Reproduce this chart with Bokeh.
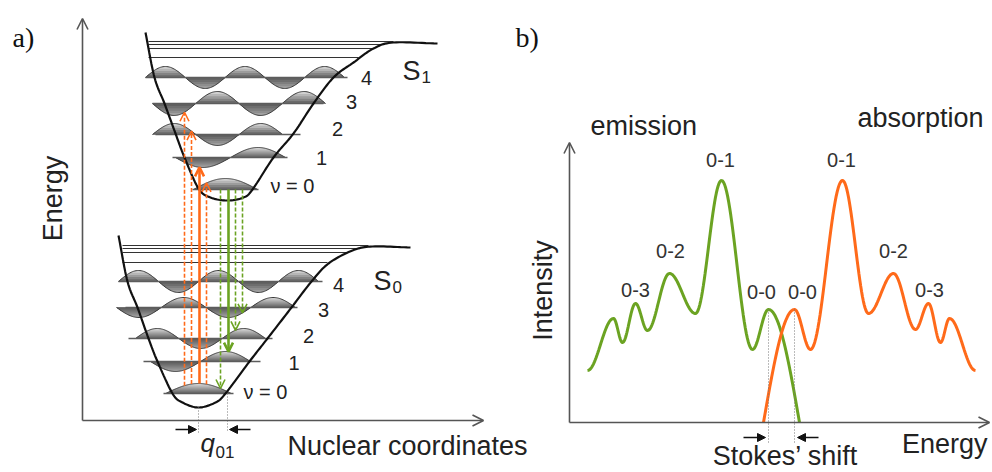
import numpy as np
from bokeh.plotting import figure
from bokeh.models import Range1d, Arrow, OpenHead, NormalHead
from bokeh.core.properties import value
from bokeh.embed import file_html
from bokeh.resources import INLINE

# ---------------- panel a data (nuclear coordinate q, energy E) ----------------
S0_curve_q = [36, 45, 55, 66, 75, 90, 100, 116, 133, 143, 167, 185, 209, 229, 246, 270, 290, 328]
S0_curve_E = [185, 139, 113, 82, 59, 27, 18, 13, 18, 27, 59, 82, 113, 139, 157, 170, 174, 173]
S1_curve_q = [63, 72, 82, 93, 102, 116, 128, 145, 161, 170, 191, 211, 231, 251, 271, 291, 311, 355]
S1_curve_E = [388, 343, 317, 287, 263, 232, 223, 220, 223, 231, 263, 287, 317, 343, 358, 372, 378, 377]

S0_level_E = [27, 59, 82, 113, 139]
S0_line_q0 = [81, 61, 46, 43, 36]
S0_line_q1 = [151, 178, 190, 215, 240]
S0_wave_q0 = [83, 68, 53, 34, 36]
S0_wave_q1 = [149, 168, 183, 213, 236]
S0_wave_amp = [10, 10, 10, 10, 11]

S1_level_E = [231, 263, 286, 317, 343]
S1_line_q0 = [110, 90, 73, 70, 63]
S1_line_q1 = [176, 205, 218, 241, 265]
S1_wave_q0 = [111, 93, 70, 70, 63]
S1_wave_q1 = [175, 203, 200, 243, 262]
S1_wave_amp = [11, 10, 11, 12, 11]

S0_cont_E = [175, 172, 168, 158]
S0_cont_q0 = [40, 40, 40, 40]
S0_cont_q1 = [286, 278, 264, 245]
S1_cont_E = [379, 376, 372, 363]
S1_cont_q0 = [66, 66, 66, 66]
S1_cont_q1 = [311, 300, 290, 276]

abs_q = [102, 109, 117, 124]
abs_level = [3, 2, 1, 0]
abs_solid = [False, False, True, False]
em_q = [138, 146, 153, 160]
em_level = [0, 1, 2, 3]
em_solid = [False, True, False, False]
q_eq_S0, q_eq_S1 = 116, 145
level_labels = ["\u03bd = 0", "1", "2", "3", "4"]

# ---------------- panel b data (energy, intensity) ----------------
em_x = [18, 44, 53, 66, 78, 100, 126, 152, 183, 199, 230]
em_y = [52, 104, 80, 119, 92, 149, 109, 242, 73, 113, 0]
ab_x = [194, 225, 241, 273, 299, 324, 346, 359, 371, 380, 406]
ab_y = [0, 113, 73, 242, 109, 149, 93, 119, 80, 104, 52]
peak_labels = ["0-0", "0-1", "0-2", "0-3"]

ORANGE = "#FF6A1A"
GREEN = "#6BA322"
AXIS = "#555555"
FONT = "Liberation Sans"

p = figure(width=992, height=472, output_backend="svg", toolbar_location=None,
           x_range=Range1d(-82, 910), y_range=Range1d(-52, 420),
           x_axis_location=None, y_axis_location=None, min_border=0,
           background_fill_color="white", border_fill_color="white")
p.grid.visible = False
p.outline_line_color = None
p.extra_x_ranges = {"bx": Range1d(-569, 423)}
p.extra_y_ranges = {"by": Range1d(-50, 422)}
B = dict(x_range_name="bx", y_range_name="by")


def catmull(xs, ys, n=12):
    P = np.column_stack([xs, ys]).astype(float)
    P = np.vstack([2 * P[0] - P[1], P, 2 * P[-1] - P[-2]])
    out = []
    t = np.linspace(0, 1, n, endpoint=False)[:, None]
    for i in range(1, len(P) - 2):
        p0, p1, p2, p3 = P[i - 1], P[i], P[i + 1], P[i + 2]
        seg = 0.5 * ((2 * p1) + (-p0 + p2) * t + (2 * p0 - 5 * p1 + 4 * p2 - p3) * t ** 2
                     + (-p0 + 3 * p1 - 3 * p2 + p3) * t ** 3)
        out.append(seg)
    out.append(P[-2][None, :])
    A = np.vstack(out)
    return A[:, 0], A[:, 1]


def wave_at(n, q0, q1, amp, q):
    q = np.asarray(q, dtype=float)
    w = amp * (-1) ** n * np.sin(np.pi * (n + 1) * (q - q0) / (q1 - q0))
    return np.where((q >= q0) & (q <= q1), w, 0.0)


def extrema_path(xs, ys, start_steep=False, end_steep=False, n=30):
    X, Y = [], []
    m = len(xs)
    t = np.linspace(0, 1, n, endpoint=False)
    for i in range(m - 1):
        if i == 0 and start_steep:
            f = np.sin(np.pi * t / 2)
        elif i == m - 2 and end_steep:
            f = 1 - np.cos(np.pi * t / 2)
        else:
            f = (1 - np.cos(np.pi * t)) / 2
        X.append(xs[i] + (xs[i + 1] - xs[i]) * t)
        Y.append(ys[i] + (ys[i + 1] - ys[i]) * f)
    X.append([xs[-1]])
    Y.append([ys[-1]])
    return np.concatenate(X), np.concatenate(Y)


UP_COLS = ["#d0d0d0", "#b6b6b6", "#9c9c9c", "#838383", "#6b6b6b"]
LO_COLS = ["#a0a0a0", "#8e8e8e", "#7e7e7e", "#6e6e6e", "#606060"]


def draw_levels(E_list, lq0, lq1, wq0, wq1, amps):
    for n, E in enumerate(E_list):
        q = np.linspace(wq0[n], wq1[n], 160)
        w = wave_at(n, wq0[n], wq1[n], amps[n], q)
        A = amps[n]
        K = len(UP_COLS)
        for k in range(K):
            c = A * (1 - k / K)
            p.varea(x=q, y1=np.full_like(q, E), y2=E + np.clip(w, 0, c), fill_color=UP_COLS[k])
            p.varea(x=q, y1=np.full_like(q, E), y2=E + np.clip(w, -c, 0), fill_color=LO_COLS[k])
        p.line(q, E + w, line_color="#3a3a3a", line_width=1)
        p.line([lq0[n], lq1[n]], [E, E], line_color="#5c5c5c", line_width=1.6)


draw_levels(S0_level_E, S0_line_q0, S0_line_q1, S0_wave_q0, S0_wave_q1, S0_wave_amp)
draw_levels(S1_level_E, S1_line_q0, S1_line_q1, S1_wave_q0, S1_wave_q1, S1_wave_amp)

for E, a, b in zip(S0_cont_E, S0_cont_q0, S0_cont_q1):
    p.line([a, b], [E, E], line_color="#333333", line_width=1.2)
for E, a, b in zip(S1_cont_E, S1_cont_q0, S1_cont_q1):
    p.line([a, b], [E, E], line_color="#333333", line_width=1.2)

for qs, Es in ((S0_curve_q, S0_curve_E), (S1_curve_q, S1_curve_E)):
    cx, cy = catmull(qs, Es)
    p.line(cx, cy, line_color="#111111", line_width=2.2)

# transitions
for q, lev, solid in zip(abs_q, abs_level, abs_solid):
    y0 = S0_level_E[0] + float(wave_at(0, S0_wave_q0[0], S0_wave_q1[0], S0_wave_amp[0], q))
    y1 = S1_level_E[lev] + float(wave_at(lev, S1_wave_q0[lev], S1_wave_q1[lev], S1_wave_amp[lev], q))
    lw = 2.6 if solid else 1.6
    p.add_layout(Arrow(x_start=q, y_start=y0, x_end=q, y_end=y1, line_color=ORANGE, line_width=lw,
                       line_dash="solid" if solid else "4 2",
                       end=OpenHead(size=9, line_color=ORANGE, line_width=lw)))
for q, lev, solid in zip(em_q, em_level, em_solid):
    y0 = S1_level_E[0]
    y1 = S0_level_E[lev] + float(wave_at(lev, S0_wave_q0[lev], S0_wave_q1[lev], S0_wave_amp[lev], q))
    lw = 2.6 if solid else 1.6
    p.add_layout(Arrow(x_start=q, y_start=y0, x_end=q, y_end=y1, line_color=GREEN, line_width=lw,
                       line_dash="solid" if solid else "4 2",
                       end=OpenHead(size=9, line_color=GREEN, line_width=lw)))

# q01 markers
p.line([q_eq_S0, q_eq_S0], [13, -12], line_color="#777777", line_width=1, line_dash="1 2")
p.line([q_eq_S1, q_eq_S1], [S0_level_E[0], -12], line_color="#777777", line_width=1, line_dash="1 2")
p.add_layout(Arrow(x_start=93, y_start=-9, x_end=q_eq_S0 - 2, y_end=-9, line_color="#111", line_width=1.5,
                   end=NormalHead(size=8, fill_color="#111", line_color="#111")))
p.add_layout(Arrow(x_start=168, y_start=-9, x_end=q_eq_S1 + 2, y_end=-9, line_color="#111", line_width=1.5,
                   end=NormalHead(size=8, fill_color="#111", line_color="#111")))

# panel a axes
p.add_layout(Arrow(x_start=0, y_start=0, x_end=0, y_end=402, line_color=AXIS, line_width=1.6,
                   end=OpenHead(size=11, line_color=AXIS, line_width=1.6)))
p.add_layout(Arrow(x_start=0, y_start=0, x_end=401, y_end=0, line_color=AXIS, line_width=1.6,
                   end=OpenHead(size=11, line_color=AXIS, line_width=1.6)))

BASE_SHIFT = 0.37  # svg text sits lower than the alphabetic anchor; compensate (fraction of size)


def txt(x, y, s, size, align="left", color="#222222", font=FONT,
        style="normal", angle=0.0, b=False):
    kw = B if b else {}
    d = BASE_SHIFT * size
    if angle:
        x = x - d
    else:
        y = y + d
    p.text(x=[x], y=[y], text=[s], text_font=value(font), text_font_size=value(f"{size}px"),
           text_align=align, text_baseline="alphabetic", text_color=color, text_font_style=style,
           angle=angle, **kw)


txt(-70, 373, "a)", 28, font="Liberation Serif", color="#111")
txt(-20, 222, "Energy", 27, align="center", angle=np.pi / 2)
txt(325, -35, "Nuclear coordinates", 27, align="center")
txt(118, -32, "q", 26, style="italic")
txt(133, -38, "01", 17)
txt(320, 340, "S", 27)
txt(339, 337, "1", 17)
txt(291, 130, "S", 27)
txt(310, 127, "0", 17)

S1_lab_x = [188, 239, 255, 269, 284]
S1_lab_y = [227, 255, 284, 311.5, 335]
S0_lab_x = [161, 211.5, 226, 241, 256]
S0_lab_y = [21, 50, 77, 103, 128]
for i, lab in enumerate(level_labels):
    al = "left" if i == 0 else "center"
    txt(S1_lab_x[i], S1_lab_y[i], lab, 20, align=al)
    txt(S0_lab_x[i], S0_lab_y[i], lab, 20, align=al)

# ---------------- panel b ----------------
ex, ey = extrema_path(em_x, em_y, end_steep=True)
ax_, ay_ = extrema_path(ab_x, ab_y, start_steep=True)
p.line(ex, ey, line_color=GREEN, line_width=3, **B)
p.line(ax_, ay_, line_color=ORANGE, line_width=3, **B)

p.add_layout(Arrow(x_start=0, y_start=0, x_end=0, y_end=280, line_color=AXIS, line_width=1.6,
                   end=OpenHead(size=11, line_color=AXIS, line_width=1.6), **B))
p.add_layout(Arrow(x_start=0, y_start=0, x_end=420, y_end=0, line_color=AXIS, line_width=1.6,
                   end=OpenHead(size=11, line_color=AXIS, line_width=1.6), **B))

# Stokes shift
p.line([em_x[9], em_x[9]], [em_y[9], -21], line_color="#777777", line_width=1, line_dash="1 2", **B)
p.line([ab_x[1], ab_x[1]], [ab_y[1], -21], line_color="#777777", line_width=1, line_dash="1 2", **B)
p.add_layout(Arrow(x_start=174, y_start=-15, x_end=em_x[9] - 3, y_end=-15, line_color="#111", line_width=1.5,
                   end=NormalHead(size=8, fill_color="#111", line_color="#111"), **B))
p.add_layout(Arrow(x_start=249, y_start=-15, x_end=ab_x[1] + 3, y_end=-15, line_color="#111", line_width=1.5,
                   end=NormalHead(size=8, fill_color="#111", line_color="#111"), **B))

txt(-54, 375, "b)", 28, font="Liberation Serif", color="#111", b=True)
txt(21, 287, "emission", 27, b=True)
txt(414, 295, "absorption", 27, align="right", b=True)
txt(-17, 132, "Intensity", 27, align="center", angle=np.pi / 2, b=True)
txt(418, -31, "Energy", 27, align="right", b=True)
txt(216, -43, "Stokes\u2019 shift", 27, align="center", b=True)

em_lab_x = [192, 151, 101, 66]
em_lab_y = [123, 255, 164, 125]
ab_lab_x = [233, 272, 324, 360]
ab_lab_y = [123, 255, 164, 125]
for i, lab in enumerate(peak_labels):
    txt(em_lab_x[i], em_lab_y[i], lab, 20, align="center", color="#333333", b=True)
    txt(ab_lab_x[i], ab_lab_y[i], lab, 20, align="center", color="#333333", b=True)

open("out.html", "w").write(file_html(p, INLINE))
